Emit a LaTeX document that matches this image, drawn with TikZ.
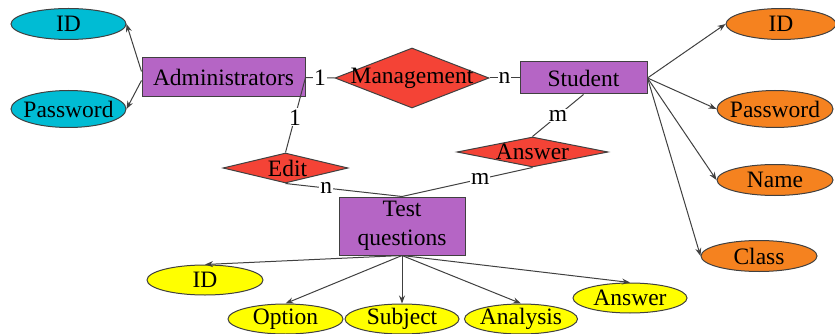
\documentclass[tikz,border=0pt]{standalone}
\usepackage{fontspec}
\setmainfont{Liberation Serif}
\usetikzlibrary{shapes.geometric,arrows.meta,calc}
\definecolor{cyanfill}{RGB}{0,188,212}
\definecolor{orangefill}{RGB}{245,130,31}
\definecolor{redfill}{RGB}{244,67,54}
\definecolor{purplefill}{RGB}{181,101,197}
\definecolor{yellowfill}{RGB}{255,255,0}
\definecolor{edge}{RGB}{64,64,64}
\begin{document}
\begin{tikzpicture}[x=1pt,y=-1pt,
  every node/.style={font=\fontsize{23.5}{29}\selectfont},
  ent/.style={draw=edge,line width=1pt,fill=purplefill,inner sep=0pt},
  attr/.style={ellipse,draw=edge,line width=1pt,inner sep=-9pt},
  rel/.style={diamond,draw=edge,line width=1pt,fill=redfill,inner sep=0pt},
  conn/.style={draw=edge,line width=1pt},
  arr/.style={conn,-{Stealth[length=8pt,width=6pt]}},
  card/.style={fill=white,inner sep=1pt,text=black}]
\useasboundingbox (0,0) rectangle (835,334);
% entities
\node[ent,minimum width=163,minimum height=39] (adm) at (223.5,77.5) {Administrators};
\node[ent,minimum width=127,minimum height=32] (stu) at (583.5,78) {Student};
\node[ent,minimum width=126,minimum height=58,align=center] (test) at (402,226) {Test\\questions};
% relationships
\node[rel,minimum width=154,minimum height=60,label={center:Management}] (mgmt) at (412,78) {};
\node[rel,minimum width=125,minimum height=30,label={[xshift=2pt]center:Edit}] (edit) at (285.5,168) {};
\node[rel,minimum width=151,minimum height=30,label={center:Answer}] (ans) at (532.5,152) {};
% attributes
\node[attr,fill=cyanfill,minimum width=115,minimum height=31] (aid) at (68.5,24) {ID};
\node[attr,fill=cyanfill,minimum width=115,minimum height=37] (apw) at (68.5,109) {Password};
\node[attr,fill=orangefill,minimum width=110,minimum height=31] (sid) at (781,24) {ID};
\node[attr,fill=orangefill,minimum width=116,minimum height=37] (spw) at (775,109) {Password};
\node[attr,fill=orangefill,minimum width=116,minimum height=31] (sname) at (775,180) {Name};
\node[attr,fill=orangefill,minimum width=116,minimum height=31] (sclass) at (759,256) {Class};
\node[attr,fill=yellowfill,minimum width=116,minimum height=30] (tid) at (205,280) {ID};
\node[attr,fill=yellowfill,minimum width=115,minimum height=30] (topt) at (285.5,319) {Option};
\node[attr,fill=yellowfill,minimum width=114,minimum height=30] (tsub) at (402,319) {Subject};
\node[attr,fill=yellowfill,minimum width=113,minimum height=30] (tana) at (521,319) {Analysis};
\node[attr,fill=yellowfill,minimum width=114,minimum height=30] (tans) at (630,298) {Answer};
% attribute arrows
\draw[arr] ($(adm.west)+(0,-6)$) -- (aid.east);
\draw[arr] ($(adm.west)+(0,3)$) -- (apw.east);
\draw[arr] (stu.east) -- (sid.west);
\draw[arr] (stu.east) -- (spw.west);
\draw[arr] (stu.east) -- (sname.west);
\draw[arr] (stu.east) -- (sclass.west);
\draw[arr] (test.south) -- (tid.north);
\draw[arr] (test.south) -- (topt.north);
\draw[arr] (test.south) -- (tsub.north);
\draw[arr] (test.south) -- (tana.north);
\draw[arr] (test.south) -- (tans.north);
% relationship lines with cardinalities
\draw[conn] (adm.east) -- node[card] {1} (mgmt.west);
\draw[conn] (mgmt.east) -- node[card] {n} (stu.west);
\draw[conn] (adm.east) -- node[card,pos=0.53] {1} (edit.north);
\draw[conn] (stu.south) -- node[card] {m} (ans.north);
\draw[conn] (edit.south) -- node[card,pos=0.35] {n} (test.north);
\draw[conn] (ans.south) -- node[card,pos=0.4] {m} (test.north);
\end{tikzpicture}
\end{document}
